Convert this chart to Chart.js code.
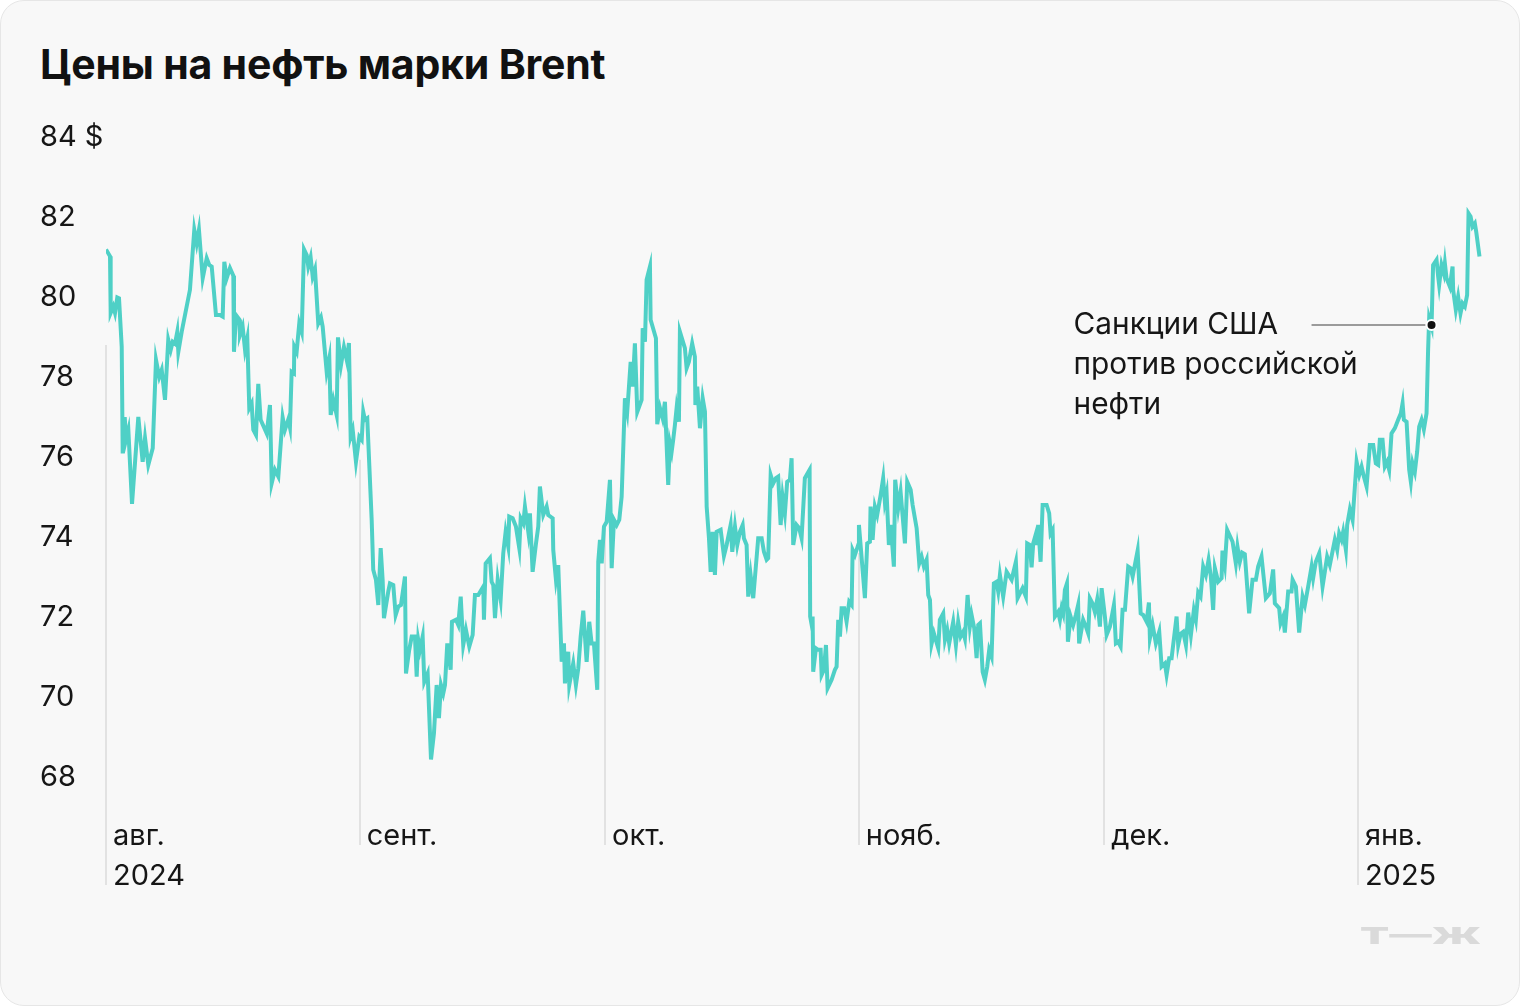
<!DOCTYPE html>
<html lang="ru">
<head>
<meta charset="utf-8">
<title>Цены на нефть марки Brent</title>
<script src="https://cdn.jsdelivr.net/npm/chart.js@4.4.1/dist/chart.umd.min.js"></script>
<style>
  html, body { margin: 0; padding: 0; background: #fff; }
  body { position: relative; width: 1520px; height: 1006px; overflow: hidden; }
  .card {
    position: absolute; left: 0; top: 0; width: 1520px; height: 1006px;
    box-sizing: border-box; background: #f8f8f8;
    border: 1px solid #e6e6e6; border-radius: 24px;
  }
  h1 {
    position: absolute; left: 40px; top: 40px; margin: 0;
    font: 700 41px/48px Inter, "Noto Sans", sans-serif; color: #111;
    letter-spacing: -0.2px;
  }
  #chart { position: absolute; left: 0; top: 0; }
  .logo {
    position: absolute; left: 1360px; top: 924px;
    font: 900 23px/24px Inter, "Noto Sans", sans-serif; color: #dadada;
    transform: scaleX(1.85); transform-origin: left center;
  }
</style>
</head>
<body>
<div class="card"></div>
<h1>Цены на нефть марки Brent</h1>
<canvas id="chart" width="1520" height="1006"></canvas>
<div class="logo">Т—Ж</div>
<script>
// days since 1 Aug 2024 (intraday points) and Brent price, $
const days = [
  0.00, 0.49, 0.57, 0.89, 1.10, 1.38, 1.59, 1.92, 2.04, 2.29,
  2.44, 2.73, 3.18, 3.95, 4.48, 4.77, 5.17, 5.71, 6.11, 6.51,
  6.81, 7.21, 7.61, 7.91, 8.15, 8.43, 8.71, 8.84, 9.25, 10.26,
  10.79, 11.08, 11.36, 11.82, 12.31, 12.62, 12.92, 13.44, 13.93, 14.26,
  14.46, 14.75, 15.15, 15.56, 15.64, 15.89, 16.29, 16.37, 16.70, 16.99,
  17.27, 17.51, 17.80, 18.00, 18.33, 18.61, 18.90, 19.64, 20.04, 20.25,
  20.65, 21.06, 21.59, 21.87, 22.28, 22.48, 22.69, 22.97, 23.01, 23.30,
  23.62, 23.92, 24.20, 24.53, 24.72, 25.01, 25.26, 25.54, 25.94, 26.27,
  26.48, 26.97, 27.29, 27.46, 27.78, 28.19, 28.35, 28.72, 29.08, 29.45,
  29.69, 29.90, 30.15, 30.55, 30.96, 31.25, 31.44, 31.65, 31.93, 32.47,
  32.66, 32.99, 33.28, 33.57, 33.81, 33.97, 34.50, 34.70, 35.11, 35.40,
  35.72, 36.05, 36.54, 36.66, 37.06, 37.36, 37.76, 37.97, 38.16, 38.37,
  38.70, 38.90, 39.31, 39.72, 40.08, 40.41, 40.69, 40.94, 41.22, 41.43,
  41.71, 42.12, 42.28, 42.77, 43.05, 43.35, 43.66, 43.99, 44.40, 44.81,
  45.09, 45.50, 46.11, 46.19, 46.40, 46.92, 47.13, 47.33, 47.54, 47.87,
  48.23, 48.55, 48.84, 49.16, 49.28, 49.70, 50.10, 50.51, 50.68, 51.00,
  51.20, 51.61, 51.81, 52.14, 52.55, 52.83, 53.03, 53.44, 53.85, 54.05,
  54.59, 54.66, 54.99, 55.27, 55.69, 55.97, 56.09, 56.49, 56.62, 57.10,
  57.43, 57.72, 58.01, 58.33, 58.74, 59.06, 59.35, 59.63, 60.04, 60.16,
  60.37, 60.58, 60.86, 61.19, 61.59, 61.80, 62.08, 62.41, 62.73, 63.02,
  63.42, 63.70, 64.12, 64.36, 64.64, 64.93, 65.46, 65.59, 65.87, 66.07,
  66.48, 66.56, 67.21, 67.37, 67.70, 68.03, 68.31, 68.71, 68.92, 69.13,
  69.32, 69.53, 69.74, 70.02, 70.14, 70.75, 70.96, 71.24, 71.64, 71.97,
  72.03, 72.26, 72.59, 72.92, 73.20, 73.41, 73.69, 73.90, 74.14, 74.42,
  74.63, 75.12, 75.52, 75.85, 76.34, 76.54, 76.87, 77.15, 77.47, 77.81,
  77.96, 78.29, 78.49, 78.78, 79.10, 79.71, 80.13, 80.41, 80.74, 80.93,
  81.23, 81.54, 81.87, 82.15, 82.45, 82.69, 82.97, 83.25, 83.58, 83.79,
  83.99, 84.40, 84.72, 85.01, 85.41, 85.99, 86.06, 86.21, 86.36, 86.43,
  86.76, 87.04, 87.34, 87.46, 87.74, 87.99, 88.19, 88.68, 89.08, 89.29,
  89.49, 89.70, 89.90, 90.22, 90.51, 90.83, 91.13, 91.25, 91.53, 91.93,
  92.02, 92.75, 93.03, 93.36, 93.44, 93.69, 93.97, 94.25, 94.67, 94.98,
  95.19, 95.40, 95.68, 95.92, 96.29, 96.45, 96.82, 97.11, 97.64, 97.92,
  98.34, 98.58, 99.07, 99.39, 99.68, 99.96, 100.29, 100.49, 100.70, 100.90,
  101.18, 101.71, 101.91, 102.32, 102.53, 102.81, 103.05, 103.54, 103.87, 104.15,
  104.45, 104.76, 104.97, 105.30, 105.58, 105.79, 106.11, 106.40, 106.60, 106.81,
  107.14, 107.41, 107.70, 107.94, 108.23, 108.51, 108.84, 109.04, 109.25, 109.65,
  110.07, 110.68, 111.20, 111.41, 112.02, 112.42, 112.58, 112.91, 113.12, 113.32,
  113.61, 113.73, 113.93, 114.22, 114.47, 114.96, 115.27, 115.44, 115.69, 115.97,
  116.37, 116.58, 116.79, 116.98, 117.19, 117.44, 117.56, 117.89, 118.20, 118.53,
  118.81, 118.93, 119.42, 119.76, 120.04, 120.24, 120.57, 120.85, 121.14, 121.47,
  121.68, 122.08, 122.29, 122.69, 123.18, 123.42, 123.70, 124.00, 124.24, 124.53,
  124.93, 125.22, 125.47, 126.08, 126.45, 126.76, 127.18, 127.46, 127.58, 127.91,
  128.31, 128.72, 129.01, 129.41, 129.62, 129.94, 130.23, 130.84, 131.04, 131.33,
  131.65, 131.98, 132.26, 132.59, 132.95, 133.20, 133.48, 133.77, 134.09, 134.42,
  134.75, 135.03, 135.31, 135.52, 135.92, 136.34, 136.45, 136.74, 137.02, 137.68,
  138.08, 138.28, 138.57, 138.85, 139.18, 139.71, 140.12, 140.53, 140.81, 141.22,
  141.75, 142.24, 142.64, 142.85, 143.38, 143.55, 143.87, 144.07, 144.48, 144.89,
  145.02, 145.42, 145.82, 146.24, 146.52, 146.92, 147.34, 147.53, 147.86, 148.27,
  148.68, 149.24, 149.57, 150.18, 150.47, 150.71, 151.00, 151.20, 151.53, 151.69,
  152.02, 152.35, 152.84, 153.16, 153.45, 153.73, 154.06, 154.46, 154.87, 155.19,
  155.48, 155.68, 156.01, 156.29, 156.57, 156.82, 157.11, 157.52, 157.92, 158.25,
  158.46, 158.62, 158.95, 159.27, 159.47, 159.68, 159.96, 160.24, 160.49, 160.78,
  161.06, 161.39, 161.58, 161.71, 162.00, 162.19, 162.61, 162.81, 162.93, 163.22,
  163.50, 163.63, 163.83, 164.24, 164.57, 164.64, 164.97, 165.25, 165.54, 165.79,
  166.07, 166.35, 166.52, 166.77, 167.01, 167.29, 167.46, 167.86
];
const prices = [
  81.19, 81.02, 79.60, 79.76, 79.60, 79.99, 79.97, 78.76, 76.09, 77.00,
  76.43, 76.68, 74.83, 77.00, 75.88, 76.47, 75.80, 76.22, 78.43, 78.00,
  78.18, 77.43, 78.93, 78.68, 78.88, 78.83, 79.13, 78.63, 79.13, 80.18,
  81.68, 81.34, 81.68, 80.47, 80.97, 80.80, 80.76, 79.55, 79.55, 79.51,
  80.88, 80.47, 80.72, 80.53, 78.63, 79.55, 79.44, 79.05, 79.26, 78.68,
  78.97, 77.22, 77.34, 76.68, 76.55, 77.83, 76.93, 76.59, 77.30, 75.34,
  75.68, 75.51, 76.99, 76.68, 76.94, 76.74, 78.13, 78.09, 78.76, 78.63,
  79.34, 79.13, 81.19, 81.05, 80.76, 80.99, 80.51, 80.69, 79.34, 79.49,
  79.26, 78.13, 78.47, 77.05, 77.43, 77.05, 78.99, 78.30, 78.75, 78.40,
  78.85, 76.51, 76.68, 75.88, 76.51, 76.43, 77.13, 76.93, 76.97, 74.43,
  73.18, 72.93, 72.30, 73.72, 72.93, 71.97, 72.64, 72.84, 72.80, 72.05,
  72.26, 72.30, 73.01, 70.59, 71.18, 71.51, 71.51, 70.51, 71.43, 71.18,
  71.51, 70.38, 70.59, 68.44, 69.09, 70.30, 69.47, 70.30, 70.09, 70.30,
  71.34, 70.68, 71.88, 71.93, 71.80, 72.51, 71.30, 71.68, 71.26, 71.55,
  72.55, 72.55, 72.76, 71.93, 73.34, 73.47, 72.88, 72.80, 71.97, 72.93,
  72.43, 73.59, 74.13, 73.76, 74.51, 74.47, 74.26, 73.72, 74.47, 74.34,
  74.76, 74.13, 74.59, 73.13, 73.84, 74.26, 75.26, 74.55, 74.76, 74.55,
  74.47, 73.68, 72.93, 73.30, 70.88, 71.34, 70.34, 71.13, 70.30, 70.84,
  70.30, 70.72, 71.51, 72.16, 70.88, 71.88, 71.34, 71.34, 70.18, 73.38,
  73.93, 73.34, 74.26, 74.38, 75.43, 73.22, 74.43, 74.30, 74.43, 75.01,
  77.47, 77.13, 78.38, 77.76, 78.84, 77.13, 77.43, 79.22, 78.88, 80.43,
  80.76, 79.43, 78.97, 76.82, 77.23, 76.97, 77.38, 75.30, 76.34, 76.13,
  76.43, 76.80, 77.23, 76.88, 79.13, 78.72, 78.22, 78.38, 78.84, 78.51,
  77.30, 77.76, 76.72, 77.47, 77.13, 74.76, 73.97, 73.13, 74.13, 73.05,
  74.13, 74.18, 73.53, 73.80, 74.30, 73.63, 74.26, 73.80, 74.13, 74.30,
  73.97, 73.80, 72.51, 73.05, 72.47, 73.97, 73.97, 73.63, 73.43, 73.47,
  75.55, 75.34, 75.47, 75.51, 74.30, 75.01, 74.59, 75.38, 75.43, 75.97,
  73.80, 74.30, 74.22, 73.97, 75.47, 75.68, 72.01, 71.84, 72.01, 70.63,
  71.22, 71.18, 71.18, 70.55, 70.68, 71.30, 70.22, 70.43, 70.68, 70.76,
  71.93, 71.51, 72.22, 72.22, 71.88, 72.38, 72.30, 73.68, 73.55, 73.80,
  74.30, 72.47, 73.84, 73.88, 74.76, 73.93, 74.76, 74.55, 75.05, 75.47,
  74.88, 75.09, 73.80, 74.30, 73.26, 75.43, 74.72, 75.13, 73.84, 75.38,
  75.18, 74.80, 74.22, 73.34, 73.51, 73.26, 73.43, 72.55, 72.43, 71.33,
  71.59, 71.22, 71.93, 72.09, 71.43, 71.68, 71.34, 71.88, 71.30, 71.88,
  71.51, 71.63, 71.46, 72.55, 71.76, 72.05, 71.72, 70.97, 71.80, 71.84,
  70.63, 70.43, 70.76, 71.18, 71.01, 72.84, 72.88, 72.64, 73.05, 72.51,
  73.13, 72.93, 73.38, 72.47, 72.72, 72.51, 73.84, 73.80, 73.24, 73.84,
  74.05, 73.80, 74.30, 73.38, 74.80, 74.80, 74.59, 74.09, 74.18, 72.01,
  72.13, 71.93, 72.22, 72.09, 72.68, 72.84, 71.38, 72.01, 71.80, 72.05,
  72.30, 71.34, 71.93, 71.76, 71.59, 72.47, 72.34, 72.13, 72.44, 71.76,
  72.72, 72.01, 71.55, 71.76, 72.30, 71.34, 71.38, 71.26, 72.18, 72.18,
  73.26, 73.22, 73.01, 73.66, 72.09, 72.05, 71.88, 72.36, 71.47, 71.80,
  71.34, 71.63, 70.76, 70.84, 70.55, 70.97, 70.97, 72.01, 71.30, 71.58,
  71.63, 71.30, 72.11, 71.55, 72.17, 71.93, 72.61, 72.51, 73.26, 73.05,
  73.43, 73.01, 72.18, 73.22, 72.88, 72.97, 73.66, 73.30, 74.18, 73.88,
  73.34, 73.76, 73.38, 73.61, 73.57, 72.09, 72.93, 72.93, 73.26, 73.51,
  72.47, 72.59, 73.19, 72.34, 72.22, 71.84, 72.01, 71.61, 72.64, 72.64,
  72.93, 72.76, 71.61, 72.51, 72.30, 72.76, 73.26, 72.97, 73.38, 73.59,
  72.76, 73.51, 73.30, 73.93, 73.68, 74.09, 73.93, 74.13, 73.68, 74.30,
  74.69, 74.43, 75.88, 75.55, 75.76, 75.51, 75.26, 76.30, 76.30, 75.84,
  75.80, 76.43, 76.43, 75.76, 75.88, 75.68, 76.59, 76.72, 76.93, 77.09,
  77.34, 76.93, 76.88, 75.68, 75.38, 75.84, 75.63, 76.13, 76.76, 76.93,
  76.69, 77.09, 78.68, 79.47, 79.26, 80.80, 80.93, 80.51, 80.30, 80.80,
  80.59, 80.84, 80.47, 80.26, 80.76, 80.18, 79.68, 80.01, 79.59, 79.84,
  79.76, 80.05, 82.09, 82.01, 81.76, 81.84, 81.63, 81.01
];

// month starts (days since 1 Aug 2024) and their labels
const monthDays = [0, 31, 61, 92, 122, 153];
const monthNames = ['авг.', 'сент.', 'окт.', 'нояб.', 'дек.', 'янв.'];
const monthYears = ['2024', '', '', '', '', '2025'];
// price level where each month line starts (it hangs from the curve)
const monthLineTop = [78.8, 75.93, 74.25, 73.6, 71.5, 75.35];

const yTicks = [68, 70, 72, 74, 76, 78, 80, 82, 84];
const unit = '$';

const note = {
  day: 162.0,
  price: 79.3,
  lines: ['Санкции США', 'против российской', 'нефти']
};

const FONT = 'Inter, "Noto Sans", sans-serif';
const INK = '#161616';

const monthLines = {
  id: 'monthLines',
  beforeDatasetsDraw(chart) {
    const { ctx, chartArea } = chart;
    const x = chart.scales.x, y = chart.scales.y;
    ctx.save();
    ctx.strokeStyle = '#e2e2e2';
    ctx.lineWidth = 2;
    monthDays.forEach((d, i) => {
      const px = Math.round(x.getPixelForValue(d));
      ctx.beginPath();
      ctx.moveTo(px, y.getPixelForValue(monthLineTop[i]));
      ctx.lineTo(px, chartArea.bottom + (monthYears[i] ? 72 : 32));
      ctx.stroke();
    });
    ctx.restore();
  }
};

const sanctionsNote = {
  id: 'sanctionsNote',
  afterDatasetsDraw(chart) {
    const { ctx } = chart;
    const px = chart.scales.x.getPixelForValue(note.day);
    const py = chart.scales.y.getPixelForValue(note.price);
    ctx.save();
    ctx.strokeStyle = '#9b9b9b';
    ctx.lineWidth = 2;
    ctx.beginPath();
    ctx.moveTo(px - 120, py);
    ctx.lineTo(px - 6, py);
    ctx.stroke();

    ctx.beginPath();
    ctx.arc(px, py, 5, 0, Math.PI * 2);
    ctx.fillStyle = '#111';
    ctx.fill();
    ctx.strokeStyle = '#fff';
    ctx.lineWidth = 2;
    ctx.stroke();

    ctx.fillStyle = INK;
    ctx.font = '29.8px ' + FONT;
    ctx.textBaseline = 'middle';
    ctx.textAlign = 'left';
    note.lines.forEach((t, i) => ctx.fillText(t, px - 358, py + i * 40));
    ctx.restore();
  }
};

const ctx = document.getElementById('chart').getContext('2d');
new Chart(ctx, {
  type: 'line',
  data: {
    datasets: [{
      data: days.map((d, i) => ({ x: d, y: prices[i] })),
      borderColor: '#4fd0c6',
      borderWidth: 4,
      pointRadius: 0,
      tension: 0,
      fill: false
    }]
  },
  options: {
    responsive: false,
    animation: false,
    layout: { padding: { left: 40, top: 137, right: 23, bottom: 107 } },
    plugins: {
      legend: { display: false },
      tooltip: { enabled: false }
    },
    scales: {
      x: {
        type: 'linear',
        min: 0,
        max: 170,
        grid: { display: false, drawTicks: false },
        border: { display: false },
        afterBuildTicks: s => { s.ticks = monthDays.map(v => ({ value: v })); },
        ticks: {
          autoSkip: false,
          maxRotation: 0,
          align: 'start',
          labelOffset: 7,
          padding: 3,
          color: INK,
          font: { family: FONT, size: 29, lineHeight: '40px' },
          callback: (v, i) => monthYears[i] ? [monthNames[i], monthYears[i]] : monthNames[i]
        }
      },
      y: {
        min: 67.1,
        max: 84,
        grid: { display: false, drawTicks: false },
        border: { display: false },
        afterBuildTicks: s => { s.ticks = yTicks.map(v => ({ value: v })); },
        afterFit: s => { s.width = 66; },
        ticks: {
          crossAlign: 'far',
          padding: 0,
          color: INK,
          font: { family: FONT, size: 29 },
          callback: v => v === yTicks[yTicks.length - 1] ? v + ' ' + unit : String(v)
        }
      }
    }
  },
  plugins: [monthLines, sanctionsNote]
});
</script>
</body>
</html>
